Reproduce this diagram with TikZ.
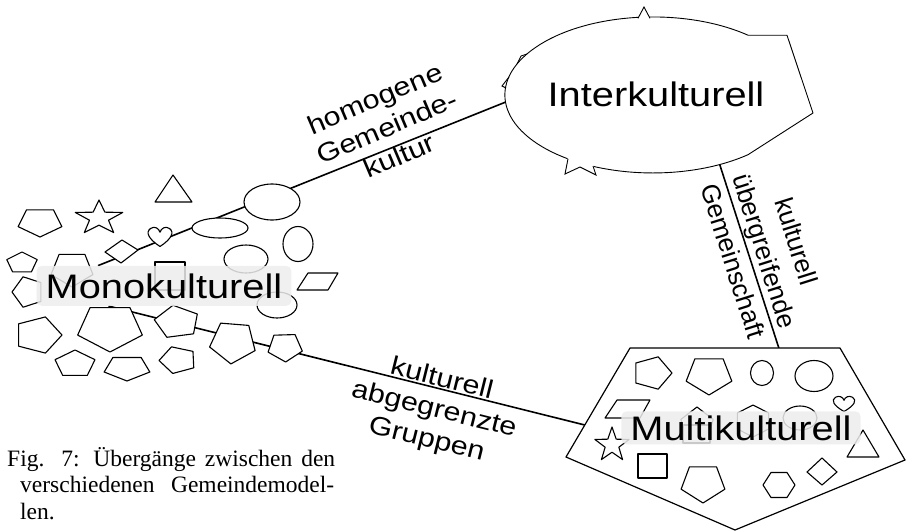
\documentclass[tikz,border=0pt]{standalone}
\usepackage{fontspec}
\setmainfont{Liberation Sans}
\newfontfamily\widesans[FakeStretch=1.17]{Liberation Sans}
\newfontfamily\capfont{Liberation Serif}
\usetikzlibrary{shapes.geometric,backgrounds}

\newcommand{\bigfont}{\widesans\fontsize{34}{40}\selectfont}
\newcommand{\midfont}{\widesans\fontsize{26}{31}\selectfont}
\newcommand{\vfont}{\fontsize{26}{33}\selectfont}

% little shapes: x, y, x radius, y radius, rotation, sides
\newcommand{\pgon}[6]{\draw[deco, shift={(#1,#2)}] (#5:#3 and #4) \foreach \k in {2,...,#6} {-- ({#5+360/#6*(\k-1)}:#3 and #4)} -- cycle;}
% star: x, y, x radius, y radius
\newcommand{\starx}[4]{\draw[deco, shift={(#1,#2)}] (-90:#3 and #4) \foreach \k in {1,...,9} {-- ({-90+36*\k}:{#3*(0.7+0.3*cos(180*\k))} and {#4*(0.7+0.3*cos(180*\k))})} -- cycle;}
% heart: x, y, width, height
\newcommand{\heartx}[4]{\draw[deco, shift={(#1,#2)}, xscale=#3, yscale=#4] (0,0.5) .. controls (-0.55,0.1) and (-0.7,-0.25) .. (-0.45,-0.45) .. controls (-0.25,-0.6) and (-0.05,-0.45) .. (0,-0.25) .. controls (0.05,-0.45) and (0.25,-0.6) .. (0.45,-0.45) .. controls (0.7,-0.25) and (0.55,0.1) .. (0,0.5) -- cycle;}

\begin{document}
\begin{tikzpicture}[x=1pt, y=-1pt,
    deco/.style={draw, fill=white, line width=1.1pt, line join=round},
    link/.style={line width=1.6pt},
    lbl/.style={fill=black!7, fill opacity=.85, text opacity=1, rounded corners=5pt, inner xsep=9pt, font=\bigfont},
    edgelbl/.style={align=center, inner sep=0pt}]

    \useasboundingbox (0,0) rectangle (906,531);

    % The three models
    \node[lbl, inner ysep=7.5pt, anchor=base] (mono) at (164,298) {Monokulturell};
    \node[ellipse, inner xsep=-8pt, minimum width=300pt, minimum height=156pt, font=\bigfont, anchor=base] (inter) at (656,106) {Interkulturell};
    \node[lbl, inner ysep=4pt, anchor=base] (multi) at (741,440) {Multikulturell};

    % Labels of the transitions
    \node[edgelbl, font=\midfont, rotate=23] (homLbl) at (387,127) {homogene\\Gemeinde-\\kultur};
    \node[edgelbl, font=\midfont, rotate=-14] (abgLbl) at (434,410) {kulturell\\abgegrenzte\\Gruppen};
    \node[edgelbl, font=\vfont, rotate=-72.5] (uebLbl) at (765,251) {kulturell\\übergreifende\\Gemeinschaft};

    % Caption
    \node[anchor=base west, align=left, inner sep=0pt, font=\capfont\fontsize{23.5}{26.5}\selectfont] (caption) at (7,519)
        {\makebox[328pt][s]{Fig. 7: Übergänge zwischen den}\\
         \hspace*{13pt}\makebox[314pt][s]{verschiedenen Gemeindemodel-}\\
         \hspace*{13pt}len.};

    \begin{scope}[on background layer]
        % Connectors first, the shapes are drawn over them
        \draw[link] (mono.163) -- (inter.183);
        \draw[link] (mono.200) -- (multi.183);
        \draw[link] (inter.-48) -- (multi.16);

        % Outline of Interkulturell
        \draw[deco, line width=.9pt] (748,35.2) arc[start angle=50, end angle=310, x radius=148pt, y radius=78pt] -- (813,113) -- (787,35.2) -- cycle;
        \fill[white] (637,20) -- (644,7) -- (651,20) -- cycle;
        \draw[line width=.9pt] (638,18.3) -- (644,7) -- (650,18.3);
        \fill[white] (568,156) -- (565,174) -- (580,167) -- (596,175) -- (593,163) -- cycle;
        \draw[line width=.9pt] (568,158.9) -- (565,174) -- (580,167) -- (596,175) -- (593,166);
        \draw[line width=.9pt] (517,64) -- (521,56) -- (527,54);
        \draw[line width=.9pt] (506,88) -- (502,86) -- (509,77);

        % Outline of Multikulturell
        \draw[deco, line width=1.2pt] (630,348) -- (840,348) -- (905,460) -- (735,530) -- (566,457) -- cycle;

        % Shapes of Monokulturell
        \draw[deco] (155,202) -- (173,175) -- (192,202) -- cycle;
        \pgon{40}{222}{23}{15}{90}{5}
        \starx{99}{218}{25}{18}
        \draw[deco] (272,202) ellipse [x radius=28pt, y radius=18pt];
        \draw[deco] (220,228) ellipse [x radius=28pt, y radius=10pt];
        \heartx{160}{237}{21}{19}
        \draw[deco] (105,252) -- (122,240) -- (138,250) -- (121,263) -- cycle;
        \draw[deco] (298,244) ellipse [x radius=15pt, y radius=17.5pt];
        \draw[deco] (246,259) ellipse [x radius=22pt, y radius=14pt];
        \pgon{22}{263}{16}{11}{-90}{5}
        \pgon{72}{269}{22}{18}{90}{5}
        \pgon{28}{292}{16}{16}{180}{5}
        \draw[deco] (155,262) rectangle (185,290);
        \draw[deco] (277,305) ellipse [x radius=20pt, y radius=13pt];
        \draw[deco] (308,273) -- (338,273) -- (328,290) -- (297,290) -- cycle;
        \pgon{38}{335}{24}{19}{0}{5}
        \pgon{110}{327.5}{34}{24.5}{90}{5}
        \pgon{177}{322}{23}{17}{-100}{5}
        \pgon{233}{342}{24}{22}{95}{5}
        \pgon{285}{347}{18}{15}{160}{5}
        \pgon{75}{364}{21}{14}{-90}{5}
        \pgon{127}{368}{24}{13}{90}{5}
        \pgon{178}{360}{19}{14}{-110}{5}

        % Shapes of Multikulturell
        \pgon{652}{373}{20}{17}{0}{5}
        \pgon{709}{375}{24}{20}{90}{5}
        \draw[deco] (762,373) ellipse [x radius=11.5pt, y radius=12.5pt];
        \draw[deco] (814,376) ellipse [x radius=19pt, y radius=15.5pt];
        \draw[deco] (617,400) -- (650,400) -- (640,418) -- (605,418) -- cycle;
        \pgon{697}{425}{17}{18}{-90}{5}
        \pgon{753}{421}{18}{16}{-90}{6}
        \draw[deco] (800,418) ellipse [x radius=17pt, y radius=12pt];
        \draw[deco] (683,425) rectangle (710,443);
        \heartx{844}{404}{19}{15}
        \starx{612}{445}{18}{18}
        \draw[deco] (638,454) rectangle (667,478);
        \draw[deco] (847,457) -- (863,430) -- (879,457) -- cycle;
        \pgon{703}{483}{23}{20}{90}{5}
        \pgon{779}{485}{16}{14.4}{0}{6}
        \draw[deco] (807,472) -- (822,458) -- (837,472) -- (822,485) -- cycle;
    \end{scope}

\end{tikzpicture}
\end{document}
